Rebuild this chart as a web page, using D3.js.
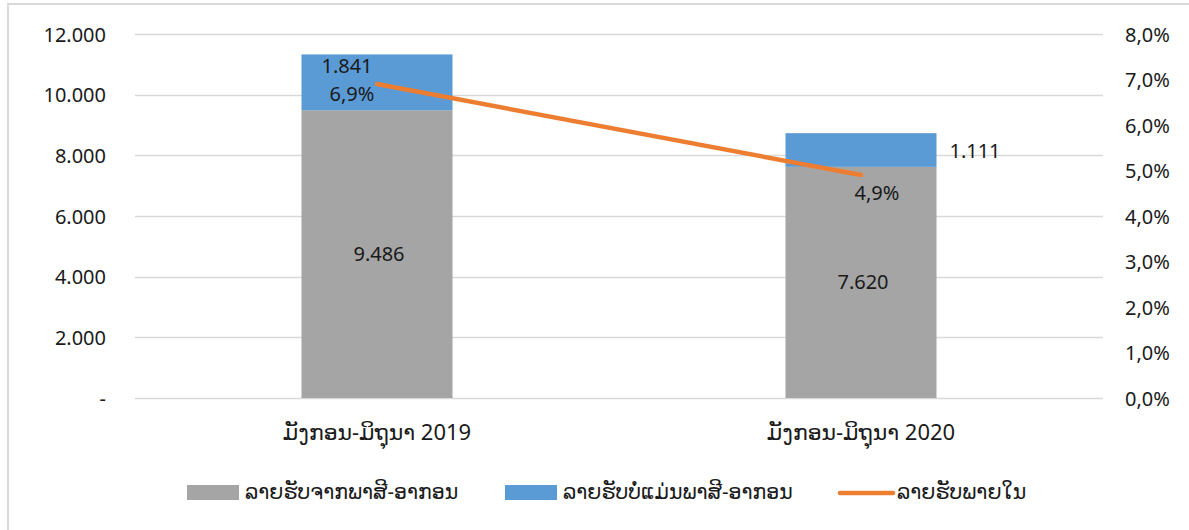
<!DOCTYPE html>
<html>
<head>
<meta charset="utf-8">
<script src="https://cdn.jsdelivr.net/npm/d3@7"></script>
<style>
  body { margin: 0; background: #fff; }
  text { font-family: "Noto Sans", "DejaVu Sans", sans-serif; fill: #1a1a1a; }
</style>
</head>
<body>
<div id="chart"></div>
<script>
const categories = ["ມັງກອນ-ມິຖຸນາ 2019", "ມັງກອນ-ມິຖຸນາ 2020"];
const taxRevenue = [9486, 7620];
const nonTaxRevenue = [1841, 1111];
const domesticShare = [0.069, 0.049];
const seriesNames = ["ລາຍຮັບຈາກພາສີ-ອາກອນ", "ລາຍຮັບບໍ່ແມ່ນພາສີ-ອາກອນ", "ລາຍຮັບພາຍໃນ"];
const leftTicks = [0, 2000, 4000, 6000, 8000, 10000, 12000];
const rightTicks = [0, 0.01, 0.02, 0.03, 0.04, 0.05, 0.06, 0.07, 0.08];

const width = 1189, height = 530;
const marginTop = 34, marginBottom = 132, marginLeft = 135, marginRight = 86;
const colors = ["#A5A5A5", "#5B9BD5", "#ED7D31"];
const fs = 20;

const locale = d3.formatLocale({decimal: ",", thousands: ".", grouping: [3], currency: ["", ""]});
const fmtNum = locale.format(",");
const fmtPct = locale.format(".1%");

const table = categories.map((c, i) => ({cat: c, tax: taxRevenue[i], nontax: nonTaxRevenue[i], pct: domesticShare[i]}));
const stacked = d3.stack().keys(["tax", "nontax"])(table);

const x = d3.scaleBand().domain(categories).range([marginLeft, width - marginRight]).paddingInner(0.688).paddingOuter(0.344);
const y = d3.scaleLinear().domain([0, 12000]).range([height - marginBottom, marginTop]);
const y2 = d3.scaleLinear().domain([0, 0.08]).range([height - marginBottom, marginTop]);

const svg = d3.select("#chart").append("svg").attr("width", width).attr("height", height);

// chart border (cut off at right and bottom like the picture)
svg.append("rect").attr("x", 8).attr("y", 4).attr("width", 1300).attr("height", 700)
  .attr("fill", "none").attr("stroke", "#d9d9d9").attr("stroke-width", 2);

// gridlines
svg.append("g").selectAll("line").data(leftTicks).join("line")
  .attr("x1", marginLeft).attr("x2", width - marginRight)
  .attr("y1", d => Math.round(y(d)) + 0.5).attr("y2", d => Math.round(y(d)) + 0.5)
  .attr("stroke", "#d9d9d9").attr("stroke-width", 1.3);

// left axis
const axL = svg.append("g").attr("transform", `translate(${marginLeft - 29},0)`)
  .call(d3.axisLeft(y).tickValues(leftTicks).tickSize(0).tickPadding(0)
    .tickFormat(d => d === 0 ? "-" : fmtNum(d)));
axL.select(".domain").remove();
axL.selectAll("text").attr("font-size", fs).attr("dy", "0.35em").style("font-family", null);

// right axis
const axR = svg.append("g").attr("transform", `translate(${width - marginRight + 22},0)`)
  .call(d3.axisRight(y2).tickValues(rightTicks).tickSize(0).tickPadding(0).tickFormat(fmtPct));
axR.select(".domain").remove();
axR.selectAll("text").attr("font-size", fs).attr("dy", "0.35em");

// category labels
svg.append("g").selectAll("text").data(categories).join("text")
  .attr("x", d => x(d) + x.bandwidth() / 2).attr("y", 440)
  .attr("text-anchor", "middle").attr("font-size", 22).text(d => d);

// bars
svg.append("g").selectAll("g").data(stacked).join("g")
  .attr("fill", (d, i) => colors[i])
  .selectAll("rect").data(d => d).join("rect")
  .attr("x", d => x(d.data.cat)).attr("width", x.bandwidth())
  .attr("y", d => y(d[1])).attr("height", d => y(d[0]) - y(d[1]));

// line
const line = d3.line().x(d => x(d.cat) + x.bandwidth() / 2).y(d => y2(d.pct));
svg.append("path").datum(table).attr("d", line)
  .attr("fill", "none").attr("stroke", colors[2]).attr("stroke-width", 4.5).attr("stroke-linecap", "round");

// data labels
const cx = c => x(c) + x.bandwidth() / 2;
svg.append("g").selectAll("text").data(table).join("text")
  .attr("x", d => cx(d.cat) + 2).attr("y", d => y(d.tax / 2) + 7)
  .attr("text-anchor", "middle").attr("font-size", fs).text(d => fmtNum(d.tax));

const nontaxOffsets = [[-30, 6], [114, 12]];
svg.append("g").selectAll("text").data(table).join("text")
  .attr("x", (d, i) => cx(d.cat) + nontaxOffsets[i][0])
  .attr("y", (d, i) => y(d.tax + d.nontax) + nontaxOffsets[i][1] + 13)
  .attr("text-anchor", "middle").attr("font-size", fs).text(d => fmtNum(d.nontax));

const pctOffsets = [[-25, 17], [16, 25]];
svg.append("g").selectAll("text").data(table).join("text")
  .attr("x", (d, i) => cx(d.cat) + pctOffsets[i][0])
  .attr("y", (d, i) => y2(d.pct) + pctOffsets[i][1])
  .attr("text-anchor", "middle").attr("font-size", fs).text(d => fmtPct(d.pct));

// legend
const legend = svg.append("g");
const legX = [187, 505, 839];
seriesNames.forEach((name, i) => {
  const g = legend.append("g").attr("transform", `translate(${legX[i]},0)`);
  if (i < 2) {
    g.append("rect").attr("x", 0).attr("y", 485).attr("width", 52).attr("height", 15).attr("fill", colors[i]);
  } else {
    g.append("line").attr("x1", 1).attr("x2", 54).attr("y1", 493).attr("y2", 493)
      .attr("stroke", colors[i]).attr("stroke-width", 4.5).attr("stroke-linecap", "round");
  }
  g.append("text").attr("x", 58).attr("y", 499).attr("font-size", 20.5).text(name);
});
</script>
</body>
</html>
